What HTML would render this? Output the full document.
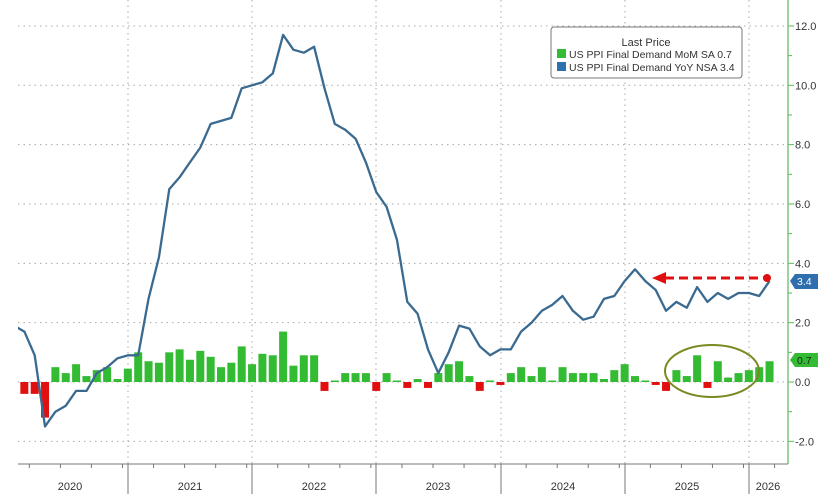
<!DOCTYPE html>
<html><head><meta charset="utf-8"><style>
body{margin:0;background:#fff;}
svg{display:block;font-family:"Liberation Sans",sans-serif;}
</style></head><body>
<svg id="c" width="823" height="494" viewBox="0 0 823 494" xmlns="http://www.w3.org/2000/svg"></svg>
<script>
const s=document.getElementById('c');
const Y=v=>382-v*29.67, X=m=>14+10.35*m;
let h='';
// horizontal grid
for(let v=-2;v<=12;v+=2){h+=`<line x1="18" x2="788" y1="${Y(v)}" y2="${Y(v)}" stroke="#aaa" stroke-dasharray="1.5,4"/>`;}
// year dividers
const divs=[128,252,376,501,625,749];
divs.forEach(x=>{h+=`<line x1="${x}" x2="${x}" y1="0" y2="464" stroke="#aaa" stroke-dasharray="1.5,4"/><line x1="${x}" x2="${x}" y1="464" y2="494" stroke="#777"/>`;});
// bars
const mom=[null,-0.4,-0.4,-1.2,0.5,0.3,0.6,0.2,0.4,0.5,0.1,0.45,
1.0,0.7,0.65,1.0,1.1,0.75,1.05,0.85,0.5,0.65,1.2,0.6,
0.95,0.9,1.7,0.55,0.9,0.9,-0.3,0.05,0.3,0.3,0.3,-0.3,
0.3,0.05,-0.2,0.1,-0.2,0.3,0.6,0.7,0.2,-0.3,0.05,-0.1,
0.3,0.5,0.2,0.5,0.05,0.5,0.3,0.3,0.3,0.1,0.4,0.6,
0.2,0.05,-0.1,-0.3,0.4,0.2,0.9,-0.2,0.7,0.15,0.3,0.4,0.5,0.7];
for(let m=1;m<mom.length;m++){const v=mom[m],x=X(m)-4;const y0=Y(0),y1=Y(v);
h+=`<rect x="${x}" y="${Math.min(y0,y1)}" width="8" height="${Math.max(Math.abs(y1-y0),1.5)}" fill="${v<0?'#e01010':'#33bb33'}"/>`;}
// line
const yoy=[1.9,1.7,0.9,-1.5,-1.0,-0.8,-0.3,-0.3,0.3,0.5,0.8,0.9,
0.9,2.8,4.2,6.5,6.9,7.4,7.9,8.7,8.8,8.9,9.9,10.0,
10.1,10.4,11.7,11.2,11.1,11.3,9.9,8.7,8.5,8.2,7.4,6.4,
5.9,4.8,2.7,2.3,1.1,0.3,1.0,1.9,1.8,1.2,0.9,1.1,
1.1,1.7,2.0,2.4,2.6,2.9,2.4,2.1,2.2,2.8,2.9,3.4,
3.8,3.4,3.1,2.4,2.7,2.5,3.2,2.7,3.0,2.8,3.0,3.0,2.9,3.4];
let p=yoy.map((v,m)=>`${X(m).toFixed(1)},${Y(v).toFixed(1)}`).join(' ');
h+=`<clipPath id="cp"><rect x="18" y="0" width="770" height="464"/></clipPath><polyline clip-path="url(#cp)" points="${p}" fill="none" stroke="#3a6a8f" stroke-width="2.3" stroke-linejoin="round"/>`;
// axes
h+=`<line x1="18" x2="788" y1="464" y2="464" stroke="#777"/><line x1="788" x2="788" y1="0" y2="464" stroke="#5cb85c" stroke-width="1.2"/>`;
for(let m=1;m<74;m+=3){const x=X(m)+5;h+=`<line x1="${x}" x2="${x}" y1="464" y2="468" stroke="#777"/>`;}
for(let v=-2;v<=12;v+=1){const y=Y(v);h+=`<line x1="788" x2="${v%2==0?794:792}" y1="${y}" y2="${y}" stroke="#5cb85c"/>`;
 if(v%2==0)h+=`<text x="795" y="${y+4}" font-size="11" fill="#333">${v.toFixed(1)}</text>`;}
const yl=[['2020',70],['2021',190],['2022',314],['2023',438],['2024',563],['2025',687],['2026',768]];
yl.forEach(([t,x])=>h+=`<text x="${x}" y="490" font-size="11" fill="#333" text-anchor="middle">${t}</text>`);
// tags
h+=`<path d="M790,281 L795,274 H818 V289 H795 Z" fill="#2f6fae"/><text x="797" y="285" font-size="10.5" fill="#fff">3.4</text>`;
h+=`<path d="M790,360 L795,353 H818 V367 H795 Z" fill="#33bb33"/><text x="797" y="364" font-size="10.5" fill="#222">0.7</text>`;
// arrow & ellipse
h+=`<line x1="665" x2="765" y1="278" y2="278" stroke="#e01010" stroke-width="3" stroke-dasharray="9,5"/><path d="M652,278 L666,272 L666,284 Z" fill="#e01010"/><circle cx="767" cy="278" r="4" fill="#e01010"/>`;
h+=`<ellipse cx="712" cy="371" rx="47" ry="26" fill="none" stroke="#7a8a20" stroke-width="2"/>`;
// legend
h+=`<rect x="551" y="27" width="191" height="51" rx="3" fill="#fff" stroke="#777"/>
<text x="646" y="46" font-size="11" fill="#333" text-anchor="middle">Last Price</text>
<rect x="557" y="49" width="9" height="9" fill="#33bb33"/><text x="569" y="58" font-size="10.5" fill="#333">US PPI Final Demand MoM SA  0.7</text>
<rect x="557" y="62" width="9" height="9" fill="#2f6fae"/><text x="569" y="71" font-size="10.5" fill="#333">US PPI Final Demand YoY NSA 3.4</text>`;
s.innerHTML=h;
</script>
</body></html>
